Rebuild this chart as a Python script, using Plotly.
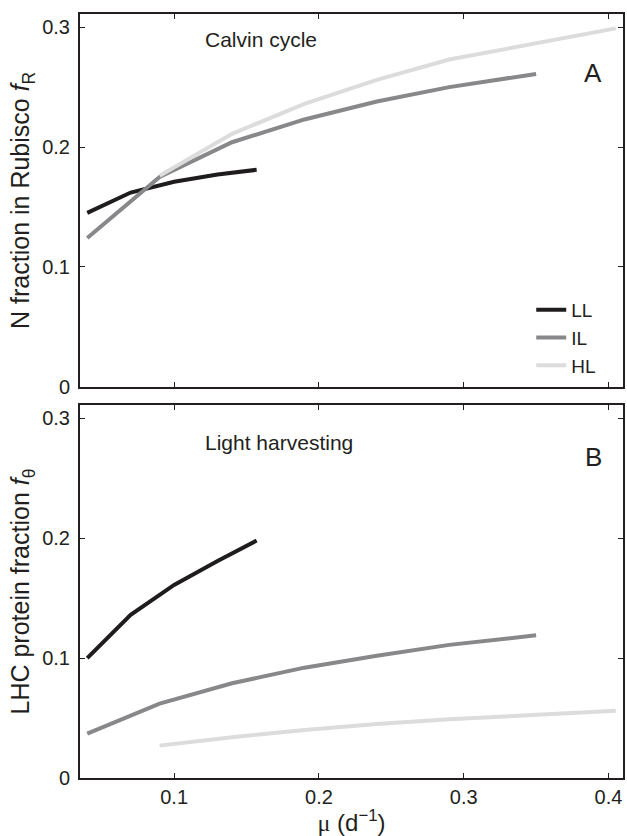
import plotly.graph_objects as go

# ---- data ----
series_names = ["LL", "IL", "HL"]
mu_LL = [0.04, 0.07, 0.10, 0.13, 0.157]
mu_IL = [0.04, 0.09, 0.14, 0.19, 0.24, 0.29, 0.35]
mu_HL = [0.09, 0.14, 0.19, 0.24, 0.29, 0.35, 0.405]

fR_LL = [0.145, 0.162, 0.171, 0.177, 0.181]
fR_IL = [0.124, 0.175, 0.204, 0.223, 0.238, 0.250, 0.261]
fR_HL = [0.176, 0.211, 0.236, 0.256, 0.273, 0.287, 0.299]

fT_LL = [0.100, 0.136, 0.161, 0.181, 0.198]
fT_IL = [0.037, 0.062, 0.079, 0.092, 0.102, 0.111, 0.119]
fT_HL = [0.027, 0.034, 0.040, 0.045, 0.049, 0.053, 0.056]

y_ticks = [0, 0.1, 0.2, 0.3]
x_ticks = [0.1, 0.2, 0.3, 0.4]

# ---- styling ----
colors = {"LL": "#1f1c1d", "IL": "#88888b", "HL": "#dcdcdd"}
ink = "#231f20"
font_family = "Liberation Sans, Arial, Helvetica, sans-serif"
lw = 4

fig = go.Figure()

top = {"LL": (mu_LL, fR_LL), "IL": (mu_IL, fR_IL), "HL": (mu_HL, fR_HL)}
bot = {"LL": (mu_LL, fT_LL), "IL": (mu_IL, fT_IL), "HL": (mu_HL, fT_HL)}

for name in series_names:
    x, y = top[name]
    fig.add_trace(go.Scatter(x=x, y=y, mode="lines", name=name,
                             line=dict(color=colors[name], width=lw),
                             xaxis="x", yaxis="y", showlegend=True))
for name in series_names:
    x, y = bot[name]
    fig.add_trace(go.Scatter(x=x, y=y, mode="lines", name=name,
                             line=dict(color=colors[name], width=lw),
                             xaxis="x2", yaxis="y2", showlegend=False))

axis_common = dict(
    showline=True, linecolor=ink, linewidth=2, mirror="ticks",
    ticks="inside", ticklen=5, tickwidth=1, tickcolor=ink,
    showgrid=False, zeroline=False,
    tickfont=dict(family=font_family, size=20, color=ink),
)

fig.update_layout(
    width=627, height=836,
    margin=dict(l=80, r=2, t=14, b=58),
    paper_bgcolor="white", plot_bgcolor="white",
    font=dict(family=font_family, color=ink, size=20),
    xaxis=dict(domain=[0, 1], range=[0.035, 0.41], tickvals=x_ticks,
               showticklabels=False, anchor="y", **axis_common),
    yaxis=dict(domain=[0.5122, 1], range=[0, 0.311], tickvals=y_ticks,
               anchor="x", ticklabelstandoff=4,
               title=dict(text="N fraction in Rubisco <i>f</i><sub>R</sub>",
                          font=dict(family=font_family, size=25, color=ink),
                          standoff=5),
               **axis_common),
    xaxis2=dict(domain=[0, 1], range=[0.035, 0.41], tickvals=x_ticks,
                anchor="y2", ticklabelstandoff=0,
                title=dict(text="<span style=\"font-family:'Liberation Serif', 'DejaVu Serif', serif\">μ</span> (d<sup>−1</sup>)",
                           font=dict(family=font_family, size=24, color=ink),
                           standoff=4),
                **axis_common),
    yaxis2=dict(domain=[0, 0.4882], range=[0, 0.311], tickvals=y_ticks,
                anchor="x2", ticklabelstandoff=4,
                title=dict(text="LHC protein fraction <i>f</i><sub>θ</sub>",
                           font=dict(family=font_family, size=25, color=ink),
                           standoff=5),
                **axis_common),
    legend=dict(x=0.831, y=0.576, xanchor="left", yanchor="middle",
                bgcolor="rgba(0,0,0,0)", borderwidth=0,
                font=dict(family=font_family, size=19, color=ink),
                tracegroupgap=0, itemwidth=30),
    showlegend=True,
)

annotations = [
    dict(text="Calvin cycle", x=0.12, y=0.29, xref="x", yref="y",
         xanchor="left", yanchor="middle", font=dict(size=21)),
    dict(text="A", x=0.397, y=0.262, xref="x", yref="y",
         xanchor="right", yanchor="middle", font=dict(size=26)),
    dict(text="Light harvesting", x=0.12, y=0.28, xref="x2", yref="y2",
         xanchor="left", yanchor="middle", font=dict(size=21)),
    dict(text="B", x=0.397, y=0.268, xref="x2", yref="y2",
         xanchor="right", yanchor="middle", font=dict(size=26)),
]
for a in annotations:
    a["showarrow"] = False
    a["font"]["family"] = font_family
    a["font"]["color"] = ink
fig.update_layout(annotations=annotations)

fig.write_html("out.html")
